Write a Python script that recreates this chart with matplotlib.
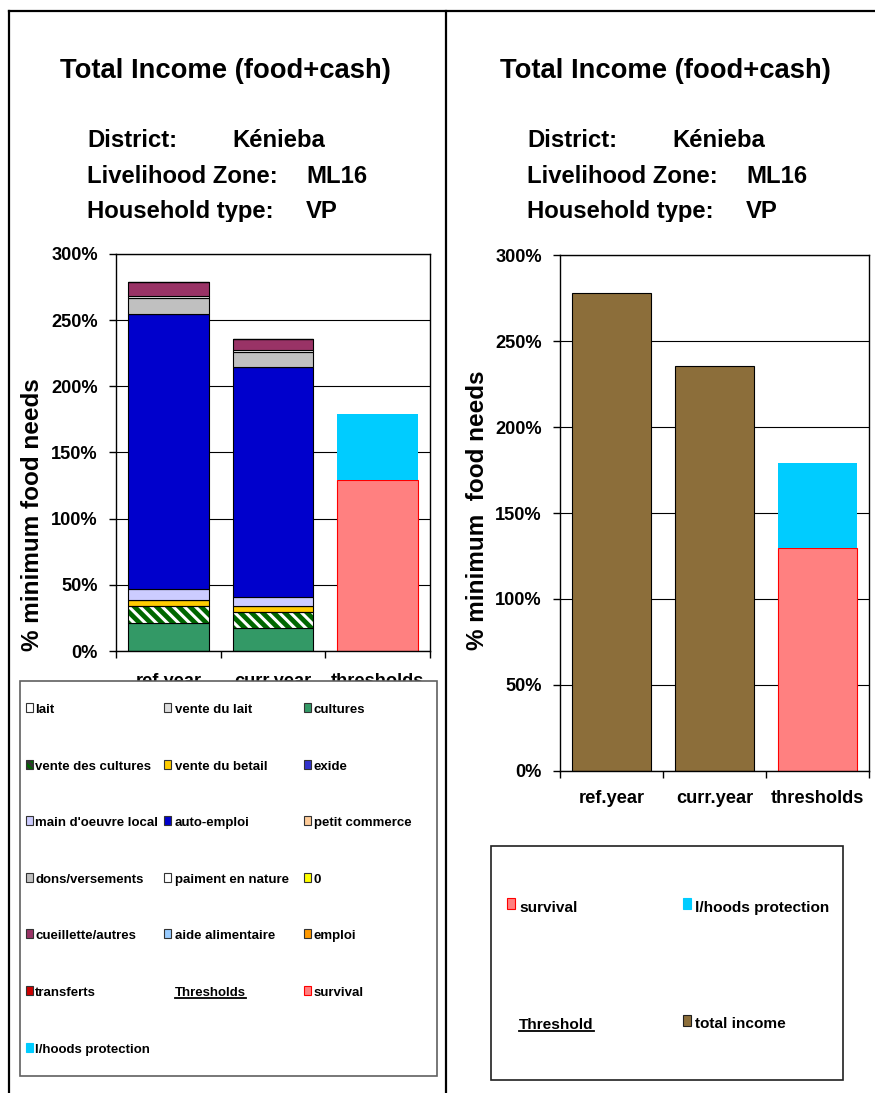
import matplotlib
matplotlib.use('Agg')
import matplotlib.pyplot as plt
from matplotlib.patches import Rectangle
from matplotlib.lines import Line2D
from matplotlib.transforms import Bbox
from matplotlib import font_manager

# ---- data ----
categories = ['ref.year', 'curr.year', 'thresholds']

series_names = ['lait', 'vente du lait', 'cultures', 'vente des cultures',
                'vente du betail', 'exide', "main d'oeuvre local", 'auto-emploi',
                'petit commerce', 'dons/versements', 'paiment en nature', '0',
                'cueillette/autres', 'aide alimentaire', 'emploi', 'transferts']
ref_values = [0, 0, 21.0, 13.0, 4.5, 0, 8.5, 207.7, 0, 12.0, 1.5, 0, 10.5, 0, 0, 0]
curr_values = [0, 0, 17.6, 11.6, 4.5, 0, 7.3, 173.6, 0, 11.3, 1.5, 0, 8.0, 0, 0, 0]
series_colors = ['#FFFFFF', '#DDDDDD', '#339966', '#006600', '#FFCC00', '#3333CC',
                 '#CCCCFF', '#0000CC', '#FFCC99', '#C0C0C0', '#FFFFFF', '#FFFF00',
                 '#993366', '#99CCFF', '#FF9900', '#CC0000']

threshold_names = ['survival', 'l/hoods protection']
threshold_values = [129.5, 49.5]
threshold_colors = ['#FF8080', '#00CCFF']

total_income = [278.0, 235.7]
total_color = '#8C6E3A'

yticks = [0, 50, 100, 150, 200, 250, 300]

# ---- fonts: a narrow face if there is one, else shrink the regular one ----
names = {f.name for f in font_manager.fontManager.ttflist}
if 'Liberation Sans Narrow' in names:
    NARROW, K = 'Liberation Sans Narrow', 1.0
else:
    NARROW, K = 'Liberation Sans', 0.82
REGULAR = 'Liberation Sans'

W, H = 875, 1093


def fx(px):
    return px / W


def fy(py):
    return 1 - py / H


fig = plt.figure(figsize=(W / 100, H / 100), dpi=100)

ax1 = fig.add_axes([fx(116), fy(651), (430 - 116) / W, (651 - 254) / H])
ax2 = fig.add_axes([fx(560), fy(770.7), (869 - 560) / W, (770.7 - 255.3) / H])

bw = 0.77
plt.rcParams['hatch.linewidth'] = 2.2

# left: stacked income sources
bottom = [0.0, 0.0]
for name, r, c, col in zip(series_names, ref_values, curr_values, series_colors):
    vals = [r, c]
    if name == 'vente des cultures':
        ax1.bar([0, 1], vals, bw, bottom=bottom, color=col, edgecolor='white',
                hatch='\\\\\\', linewidth=0, zorder=2)
        ax1.bar([0, 1], vals, bw, bottom=bottom, fill=False, edgecolor='black',
                linewidth=0.8, zorder=3)
    else:
        ax1.bar([0, 1], vals, bw, bottom=bottom, color=col, edgecolor='black',
                linewidth=0.8, zorder=2)
    bottom = [bottom[0] + r, bottom[1] + c]

# right: total income
ax2.bar([0, 1], total_income, bw, color=total_color, edgecolor='black',
        linewidth=0.8, zorder=2)

# thresholds on both charts
for ax in (ax1, ax2):
    ax.bar(2, threshold_values[0], bw, color=threshold_colors[0],
           edgecolor='#FF0000', linewidth=0.8, zorder=2)
    ax.bar(2, threshold_values[1], bw, bottom=threshold_values[0],
           color=threshold_colors[1], linewidth=0, zorder=2)

for ax, pad in ((ax1, 16), (ax2, 14)):
    ax.set_xlim(-0.5, 2.5)
    ax.set_ylim(0, 300)
    ax.set_yticks(yticks)
    ax.set_yticklabels([f'{v}%' for v in yticks], fontfamily=NARROW,
                       fontweight='bold', fontsize=16 * K)
    ax.set_xticks([0, 1, 2])
    ax.set_xticklabels(categories, fontfamily=NARROW, fontweight='bold',
                       fontsize=16 * K)
    ax.set_xticks([-0.5, 0.5, 1.5, 2.5], minor=True)
    ax.tick_params(axis='x', which='major', length=0, pad=pad)
    ax.tick_params(axis='x', which='minor', length=5, width=1, direction='out')
    ax.tick_params(axis='y', length=5, width=1, direction='out', pad=8)
    ax.set_axisbelow(True)
    ax.yaxis.grid(True, color='black', linewidth=0.8)
    for s in ax.spines.values():
        s.set_color('black')
        s.set_linewidth(1)

fig.text(fx(33), fy(515), '% minimum food needs', rotation=90, ha='center',
         va='center', fontfamily=REGULAR, fontweight='bold', fontsize=17.5)
fig.text(fx(478), fy(510), '% minimum  food needs', rotation=90, ha='center',
         va='center', fontfamily=REGULAR, fontweight='bold', fontsize=17.5)

# ---- headers ----
header_rows = [('District:', 'Kénieba', 232, 147),
               ('Livelihood Zone:', 'ML16', 306, 183),
               ('Household type:', 'VP', 306, 218)]
clip = Bbox.from_extents(0, H - 222, W, H)
for off in (0, 440):
    fig.text(fx(60 + off), fy(78), 'Total Income (food+cash)', fontfamily=NARROW,
             fontweight='bold', fontsize=24 * K, va='baseline')
    for lab, val, vx, base in header_rows:
        for s, x in ((lab, 87), (val, vx)):
            t = fig.text(fx(x + off), fy(base), s, fontfamily=NARROW,
                         fontweight='bold', fontsize=21 * K, va='baseline')
            t.set_clip_on(True)
            t.set_clip_box(clip)

# ---- left legend (row-major, 3 columns) ----
fig.add_artist(Rectangle((fx(20), fy(1076)), (437 - 20) / W, (1076 - 681) / H,
                         transform=fig.transFigure, facecolor='white',
                         edgecolor='#606060', linewidth=1.2, zorder=4))
left_entries = [(n, c) for n, c in zip(series_names, series_colors)]
left_entries.append(('Thresholds', None))
left_entries += [(n, c) for n, c in zip(threshold_names, threshold_colors)]
col_mark = [26, 164, 304]
col_text = [35, 175, 314]
underlined = []
for i, (lab, col) in enumerate(left_entries):
    r, cidx = divmod(i, 3)
    base = 713 + r * 56.6
    if col is not None:
        if lab == 'survival':
            ec = '#FF0000'
        elif lab == 'l/hoods protection':
            ec = col
        else:
            ec = '#333333'
        kw = {}
        if lab == 'vente des cultures':
            kw = dict(hatch='\\\\\\\\')
        fig.add_artist(Rectangle((fx(col_mark[cidx]), fy(base - 1)), 7 / W, 9 / H,
                                 transform=fig.transFigure, facecolor=col,
                                 edgecolor=ec, linewidth=0.8, zorder=5, **kw))
    t = fig.text(fx(col_text[cidx]), fy(base), lab, fontfamily=NARROW,
                 fontweight='bold', fontsize=11.6 * K, va='baseline', zorder=5)
    if col is None:
        underlined.append((t, base + 1.8))

# ---- right legend (2 columns) ----
fig.add_artist(Rectangle((fx(491), fy(1080)), (843 - 491) / W, (1080 - 846) / H,
                         transform=fig.transFigure, facecolor='white',
                         edgecolor='#202020', linewidth=1.2, zorder=4))
right_entries = [('survival', threshold_colors[0], '#FF0000', 507, 519, 911.7),
                 ('l/hoods protection', threshold_colors[1], threshold_colors[1], 683, 695, 911.7),
                 ('Threshold', None, None, 507, 519, 1029),
                 ('total income', total_color, '#202020', 683, 695, 1028)]
for lab, col, ec, mx, tx, base in right_entries:
    if col is not None:
        fig.add_artist(Rectangle((fx(mx), fy(base - 2.5)), 8 / W, 11 / H,
                                 transform=fig.transFigure, facecolor=col,
                                 edgecolor=ec, linewidth=0.8, zorder=5))
    t = fig.text(fx(tx), fy(base), lab, fontfamily=NARROW, fontweight='bold',
                 fontsize=13.5 * K, va='baseline', zorder=5)
    if col is None:
        underlined.append((t, base + 1.8))

fig.canvas.draw()
renderer = fig.canvas.get_renderer()
for t, yy in underlined:
    bb = t.get_window_extent(renderer)
    fig.add_artist(Line2D([bb.x0 / W, bb.x1 / W], [fy(yy), fy(yy)],
                          transform=fig.transFigure, color='black',
                          linewidth=1.3, zorder=6))

# ---- panel frame lines ----
for xs, ys in (([9, 875], [11, 11]), ([9, 9], [11, 1093]), ([446.5, 446.5], [11, 1093])):
    fig.add_artist(Line2D([fx(x) for x in xs], [fy(y) for y in ys],
                          transform=fig.transFigure, color='black', linewidth=1.6,
                          zorder=6))

fig.savefig('out.png', dpi=100)
